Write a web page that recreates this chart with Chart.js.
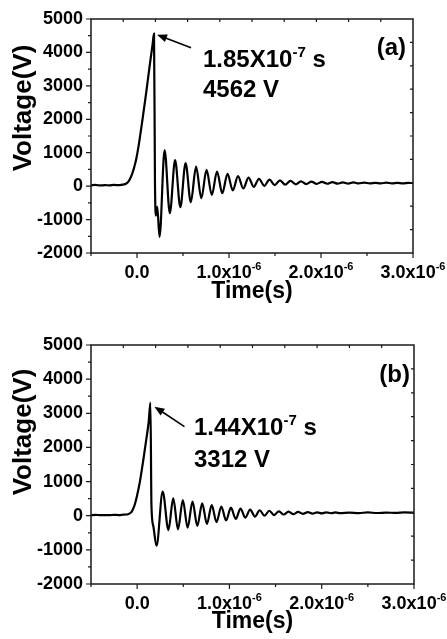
<!DOCTYPE html>
<html><head><meta charset="utf-8">
<script src="https://cdn.jsdelivr.net/npm/chart.js@4.4.1/dist/chart.umd.min.js"></script>
<style>
html,body{margin:0;padding:0;background:#fff;width:447px;height:639px;overflow:hidden;}
.box{position:absolute;left:0;width:447px;}
#boxA{top:0;height:320px;}
#boxB{top:320px;height:319px;}
canvas{display:block;}
</style></head><body>
<div class="box" id="boxA"><canvas id="cA" width="447" height="320"></canvas></div>
<div class="box" id="boxB"><canvas id="cB" width="447" height="319"></canvas></div>
<script>
// ---------- data (time in microseconds, voltage in V) ----------
const timeA = [-0.50,-0.45,-0.40,-0.35,-0.30,-0.25,-0.20,-0.16,-0.13,-0.11,-0.09,-0.07,-0.05,-0.03,-0.01,0.02,0.06,0.10,0.14,0.17,0.185,
  0.195,0.205,0.22,0.245,0.30,0.357,0.414,0.471,0.528,0.585,0.642,0.699,0.756,0.813,0.870,0.927,0.984,1.041,1.098,1.155,1.212,1.269,1.326,1.383,
  1.44,1.497,1.554,1.611,1.668,1.725,1.782,1.839,1.896,1.953,2.01,2.067,2.124,2.181,2.238,2.295,2.352,2.41,2.47,2.53,2.59,2.65,2.71,2.77,2.83,2.89,2.95,3.0];
const voltA = [25,35,20,30,25,35,30,45,60,90,150,250,390,570,790,1250,2000,2800,3650,4250,4562,
  200,-880,-620,-1520,1080,-810,780,-630,690,-480,582,-363,484,-264,433,-213,370,-130,300,-70,255,-20,220,10,
  195,30,175,45,160,55,145,62,135,68,128,72,120,75,115,78,110,80,105,82,100,85,105,80,100,85,100,90];

const timeB = [-0.50,-0.45,-0.40,-0.35,-0.30,-0.25,-0.20,-0.15,-0.12,-0.10,-0.08,-0.06,-0.04,-0.02,0.0,0.03,0.065,0.10,0.125,0.144,
  0.155,0.175,0.21,0.277,0.339,0.391,0.443,0.495,0.547,0.600,0.652,0.705,0.756,0.808,0.860,0.912,0.964,1.016,1.068,1.120,1.172,1.224,1.276,
  1.328,1.380,1.432,1.484,1.536,1.588,1.64,1.692,1.744,1.796,1.848,1.90,1.95,2.0,2.05,2.1,2.15,2.2,2.3,2.4,2.5,2.6,2.7,2.8,2.9,3.0];
const voltB = [15,25,15,20,15,25,20,30,35,45,70,115,220,380,600,1000,1600,2250,2750,3312,
  300,-300,-880,703,-420,510,-400,460,-350,410,-300,360,-240,310,-190,270,-140,235,-95,205,-55,180,-25,
  160,0,145,20,130,35,120,45,112,55,105,62,100,68,98,72,95,75,92,78,95,80,92,82,95,85];

const xTickValues = [0, 1, 2, 3];
const xTickBase = ['0.0', '1.0x10', '2.0x10', '3.0x10'];
const xTickExp = ['', '-6', '-6', '-6'];
const peakA = {t: 0.185, v: 4562, line1: '1.85X10', exp: '-7', unit: ' s', line2: '4562 V', panel: '(a)'};
const peakB = {t: 0.144, v: 3312, line1: '1.44X10', exp: '-7', unit: ' s', line2: '3312 V', panel: '(b)'};
const xTitle = 'Time(s)';
const yTitle = 'Voltage(V)';

// ---------- drawing ----------
const FF = "'Liberation Sans', Arial, Helvetica, sans-serif";

function decorPlugin(p, st) {
  return {
    id: 'decor',
    afterDraw(chart) {
      const ctx = chart.ctx, a = chart.chartArea;
      const xs = chart.scales.x, ys = chart.scales.y;
      ctx.save();
      // frame
      ctx.strokeStyle = '#1a1a1a';
      ctx.lineWidth = 1.5;
      ctx.strokeRect(a.left, a.top, a.right - a.left, a.bottom - a.top);
      ctx.lineWidth = 1.2;
      ctx.beginPath();
      // left ticks (outward)
      for (let v = -2000; v <= 5000; v += 500) {
        const y = ys.getPixelForValue(v);
        const len = (v % 1000 === 0) ? 5 : 3;
        ctx.moveTo(a.left - len, y); ctx.lineTo(a.left, y);
      }
      // bottom ticks (outward)
      for (let t = -0.5; t <= 3.0001; t += 0.5) {
        const x = xs.getPixelForValue(t);
        const len = (Math.abs(t - Math.round(t)) < 1e-6) ? 5 : 3;
        ctx.moveTo(x, a.bottom); ctx.lineTo(x, a.bottom + len);
      }
      // top and right ticks (inward, 10 divisions)
      for (let k = 1; k < 10; k++) {
        const x = xs.getPixelForValue(xs.min + k * (xs.max - xs.min) / 10);
        ctx.moveTo(x, a.top); ctx.lineTo(x, a.top + 3);
        const y = ys.getPixelForValue(ys.min + k * (ys.max - ys.min) / 10);
        ctx.moveTo(a.right, y); ctx.lineTo(a.right - 3, y);
      }
      ctx.stroke();

      ctx.fillStyle = '#000';
      // x tick labels with superscripts
      xTickValues.forEach((t, i) => {
        const x = xs.getPixelForValue(t);
        ctx.font = 'bold 18px ' + FF;
        const wb = ctx.measureText(xTickBase[i]).width;
        ctx.font = 'bold 11px ' + FF;
        const we = xTickExp[i] ? ctx.measureText(xTickExp[i]).width : 0;
        const x0 = x - (wb + we) / 2;
        const yb = a.bottom + 25;
        ctx.textAlign = 'left'; ctx.textBaseline = 'alphabetic';
        ctx.font = 'bold 18px ' + FF;
        ctx.fillText(xTickBase[i], x0, yb);
        if (xTickExp[i]) {
          ctx.font = 'bold 11px ' + FF;
          ctx.fillText(xTickExp[i], x0 + wb, yb - 8);
        }
      });
      // x title
      ctx.font = 'bold 23px ' + FF;
      ctx.textAlign = 'center';
      ctx.fillText(xTitle, (a.left + a.right) / 2, a.bottom + st.xTitleOff);
      // y title
      ctx.save();
      ctx.translate(31, a.top + st.yTitleOff);
      ctx.rotate(-Math.PI / 2);
      ctx.font = 'bold 26px ' + FF;
      ctx.textAlign = 'center';
      ctx.fillText(yTitle, 0, 0);
      ctx.restore();
      // panel label
      ctx.font = 'bold 24px ' + FF;
      ctx.textAlign = 'right';
      ctx.fillText(p.panel, a.right - st.panelR, st.panelY);
      // arrow
      const px = xs.getPixelForValue(p.t), py = ys.getPixelForValue(p.v);
      const tx = px + st.tipDx, ty = py + st.tipDy;
      const ex = tx + st.arrDx, ey = ty + st.arrDy;
      const ang = Math.atan2(ey - ty, ex - tx);
      ctx.strokeStyle = '#000'; ctx.lineWidth = 1.6;
      ctx.beginPath(); ctx.moveTo(ex, ey); ctx.lineTo(tx + 7 * Math.cos(ang), ty + 7 * Math.sin(ang)); ctx.stroke();
      ctx.beginPath();
      ctx.moveTo(tx, ty);
      ctx.lineTo(tx + 10 * Math.cos(ang) - 4 * Math.sin(ang), ty + 10 * Math.sin(ang) + 4 * Math.cos(ang));
      ctx.lineTo(tx + 10 * Math.cos(ang) + 4 * Math.sin(ang), ty + 10 * Math.sin(ang) - 4 * Math.cos(ang));
      ctx.closePath(); ctx.fill();
      // annotation text
      ctx.textAlign = 'left';
      ctx.font = 'bold 24px ' + FF;
      ctx.fillText(p.line1, st.textX, st.text1Y);
      const w1 = ctx.measureText(p.line1).width;
      ctx.font = 'bold 15px ' + FF;
      ctx.fillText(p.exp, st.textX + w1, st.text1Y - 10);
      const w2 = ctx.measureText(p.exp).width;
      ctx.font = 'bold 24px ' + FF;
      ctx.fillText(p.unit, st.textX + w1 + w2, st.text1Y);
      ctx.fillText(p.line2, st.textX, st.text2Y);
      ctx.restore();
    }
  };
}

function makeChart(id, times, volts, p, st, pad, xH) {
  const pts = times.map((t, i) => ({x: t, y: volts[i]}));
  return new Chart(document.getElementById(id), {
    type: 'line',
    data: {datasets: [{data: pts, borderColor: '#000', borderWidth: 2.2, pointRadius: 0,
      cubicInterpolationMode: 'monotone', fill: false}]},
    options: {
      responsive: false, animation: false, devicePixelRatio: 1,
      layout: {padding: pad},
      plugins: {legend: {display: false}, tooltip: {enabled: false}},
      scales: {
        x: {type: 'linear', min: -0.5, max: 3.0,
          ticks: {display: false, stepSize: 0.5},
          grid: {display: false, drawTicks: false}, border: {display: false},
          afterFit(s) { s.height = xH; s.paddingLeft = 0; s.paddingRight = 0; }},
        y: {type: 'linear', min: -2000, max: 5000,
          ticks: {stepSize: 1000, color: '#000', padding: 8, font: {family: FF, size: 18, weight: 'bold'},
            callback: v => String(v)},
          grid: {display: false, drawTicks: false}, border: {display: false},
          afterFit(s) { s.width = 91; s.paddingTop = 0; s.paddingBottom = 0; }}
      }
    },
    plugins: [decorPlugin(p, st)]
  });
}

makeChart('cA', timeA, voltA, peakA,
  {xTitleOff: 45, yTitleOff: 89, panelR: 7, panelY: 55, tipDx: 3, tipDy: 1, arrDx: 34, arrDy: 13, textX: 203, text1Y: 67, text2Y: 97},
  {top: 19, right: 34, bottom: 0, left: 0}, 67);
makeChart('cB', timeB, voltB, peakB,
  {xTitleOff: 44, yTitleOff: 87, panelR: 4, panelY: 62, tipDx: 4, tipDy: 4, arrDx: 30, arrDy: 20, textX: 194, text1Y: 115, text2Y: 147},
  {top: 25, right: 33, bottom: 0, left: 0}, 55);
</script>
</body></html>
